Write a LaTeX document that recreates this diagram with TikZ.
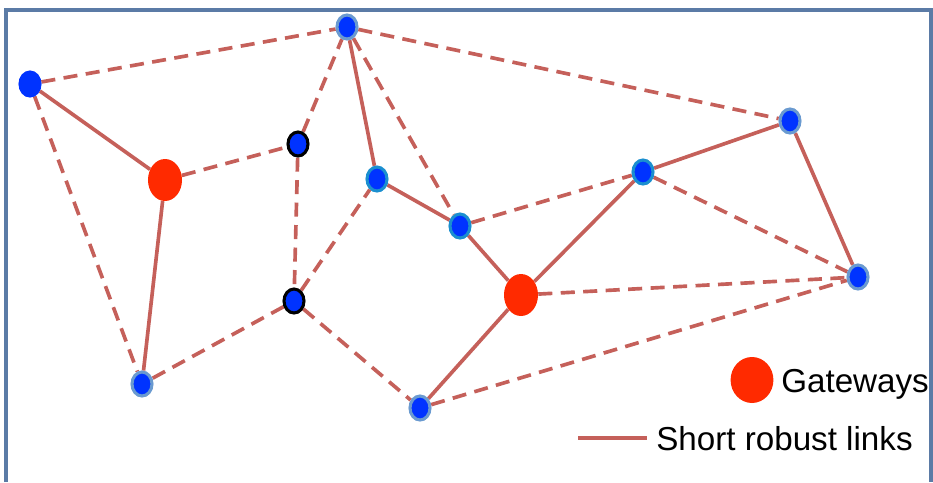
\documentclass[tikz,border=0pt]{standalone}
\usepackage{fontspec}
\setmainfont{Liberation Sans}
\definecolor{linkred}{HTML}{C5605A}
\definecolor{moteblue}{HTML}{0033FF}
\definecolor{gwred}{HTML}{FF2A00}
\definecolor{frameblue}{HTML}{5B7BA6}
\definecolor{rimblue}{HTML}{6A9AD0}
\definecolor{rimcyan}{HTML}{1B8FCF}
\usetikzlibrary{shapes.geometric, backgrounds}

\begin{document}
\begin{tikzpicture}[x=0.025cm, y=-0.025cm,
  mote/.style={ellipse, fill=moteblue, draw=#1, line width=2.2pt, inner sep=0pt,
    minimum width=0.5cm, minimum height=0.6cm},
  mote/.default=moteblue,
  gateway/.style={ellipse, fill=gwred, inner sep=0pt,
    minimum width=0.85cm, minimum height=1.05cm},
  link/.style={linkred, line width=2.6pt},
  weaklink/.style={link, dash pattern=on 10pt off 6pt},
  keytext/.style={anchor=base west, inner sep=0pt, font=\fontsize{23.6pt}{28pt}\selectfont}]
  \useasboundingbox (0,0) rectangle (933,482);
  \draw[frameblue, line width=2.6pt] (6,482) -- (6,10) -- (931,10) -- (931,482);

  % sensor motes
  \node[mote] (nw) at (30,84) {};
  \node[mote=rimblue] (top) at (347,27) {};
  \node[mote=black] (mid1) at (298,144) {};
  \node[mote=black] (mid2) at (294,301) {};
  \node[mote=rimcyan] (c1) at (377,179) {};
  \node[mote=rimcyan] (c2) at (460,226) {};
  \node[mote=rimcyan] (c3) at (643,172) {};
  \node[mote=rimblue] (ne) at (790,121) {};
  \node[mote=rimblue] (east) at (858,277) {};
  \node[mote=rimblue] (south) at (420,408) {};
  \node[mote=rimblue] (sw) at (142,384) {};

  % gateways
  \node[gateway] (gw1) at (165,180) {};
  \node[gateway] (gw2) at (521,295) {};

  \begin{scope}[on background layer]
    % short robust links
    \draw[link] (nw) -- (gw1);
    \draw[link] (gw1) -- (sw);
    \draw[link] (top) -- (c1);
    \draw[link] (c1) -- (c2);
    \draw[link] (c2) -- (gw2);
    \draw[link] (gw2) -- (c3);
    \draw[link] (c3) -- (ne);
    \draw[link] (ne) -- (east);
    \draw[link] (gw2) -- (south);
    % other links
    \draw[weaklink] (nw) -- (top);
    \draw[weaklink] (nw) -- (sw);
    \draw[weaklink] (gw1) -- (mid1);
    \draw[weaklink] (mid1) -- (top);
    \draw[weaklink] (mid1) -- (mid2);
    \draw[weaklink] (mid2) -- (sw);
    \draw[weaklink] (mid2) -- (c1);
    \draw[weaklink] (mid2) -- (south);
    \draw[weaklink] (top) -- (c2);
    \draw[weaklink] (top) -- (ne);
    \draw[weaklink] (c2) -- (c3);
    \draw[weaklink] (c3) -- (east);
    \draw[weaklink] (gw2) -- (east);
    \draw[weaklink] (south) -- (east);
  \end{scope}

  % legend
  \node[gateway, minimum width=1.07cm, minimum height=1.15cm] (keygw) at (752,380) {};
  \node[keytext] (keygwtext) at (781,392) {Gateways};
  \coordinate (keyl) at (578,438);
  \coordinate (keyr) at (647,438);
  \draw[link] (keyl) -- (keyr);
  \node[keytext] (keylinktext) at (656,450) {Short robust links};
\end{tikzpicture}
\end{document}
